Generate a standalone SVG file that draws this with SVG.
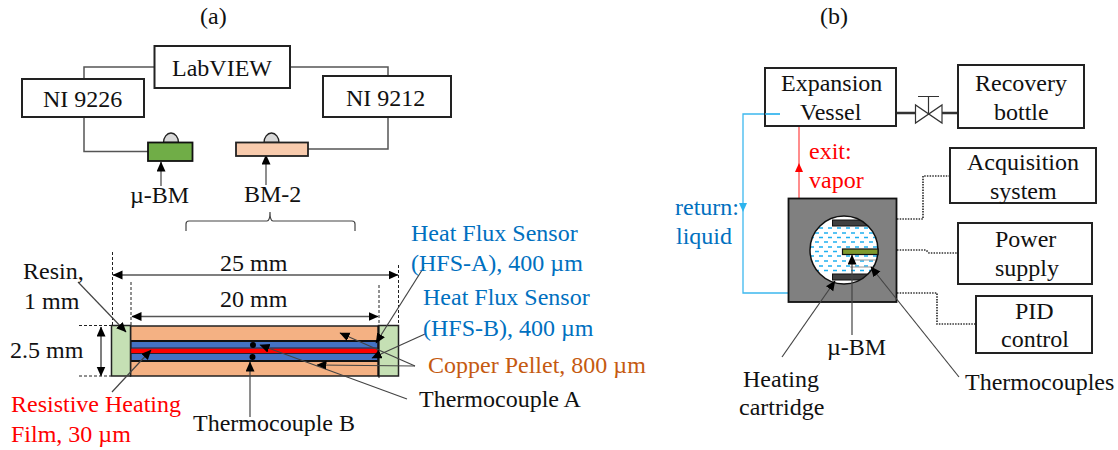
<svg xmlns="http://www.w3.org/2000/svg" width="1118" height="450" viewBox="0 0 1118 450">
<style>
text{font-family:"Liberation Serif","Times New Roman",serif;font-size:24px;fill:#111}
.blue{fill:#0070C0}.red{fill:#FF0000}.orange{fill:#C55A11}
.box{fill:#fff;stroke:#222;stroke-width:2}
.edge{fill:none;stroke:#555;stroke-width:1.500}
.lead{fill:none;stroke:#444;stroke-width:1.200}
.arrow{marker-end:url(#ah)}
.dash{fill:none;stroke:#222;stroke-width:1;stroke-dasharray:3 2}
.dot{fill:none;stroke:#333;stroke-width:1.700;stroke-dasharray:1.500 1.200}
.water{stroke:#1FB0F0;stroke-width:1.500;stroke-dasharray:4 5}
.semi{fill:#D9D9D9;stroke:#222;stroke-width:1.300}
</style>
<defs>
<marker id="ah" markerUnits="userSpaceOnUse" markerWidth="12" markerHeight="10" refX="9.500" refY="4.500" orient="auto"><path d="M0 0L10 4.500L0 9Z" fill="#000"/></marker>
<marker id="ahs" markerUnits="userSpaceOnUse" markerWidth="12" markerHeight="10" refX="9.500" refY="4.500" orient="auto-start-reverse"><path d="M0 0L10 4.500L0 9Z" fill="#000"/></marker>
<clipPath id="cc"><circle cx="844" cy="250" r="34"/></clipPath>
</defs>

<text x="200" y="24">(a)</text>
<text x="820" y="24">(b)</text>

<g id="connectors">
<path class="edge" d="M154 67H84V79M290 67H388V76M84 117V151.500H148M308 149H388V117"/>
<path class="lead arrow" d="M161 186V162"/>
<path class="lead arrow" d="M266 185V155"/>
<path class="lead" d="M186 231V224Q186 221 189 221H267Q270 221 270 212Q270 221 273 221H352Q355 221 355 224V231"/>
<path class="dash" d="M112.500 252V325M131 282V325M379 285V378M398.500 265V325M79 325.500H111M79 376H111"/>
</g>

<g id="labview"><rect class="box" x="154.500" y="46" width="135.500" height="42"/><text x="172" y="76">LabVIEW</text></g>
<g id="ni9226"><rect class="box" x="22" y="79" width="122" height="38"/><text x="43" y="107">NI 9226</text></g>
<g id="ni9212"><rect class="box" x="323" y="76" width="128" height="41"/><text x="346" y="106">NI 9212</text></g>
<g id="ubm-a"><path class="semi" d="M163.500 142.500A7.500 9.500 0 0 1 178.500 142.500Z"/><rect x="148" y="142.500" width="44.500" height="18.500" fill="#70AD47" stroke="#111" stroke-width="1.800"/><text x="130" y="203">µ-BM</text></g>
<g id="bm2"><path class="semi" d="M264 142.500A7.500 9.500 0 0 1 279 142.500Z"/><rect x="236" y="142.500" width="72" height="13.500" fill="#F8CBAD" stroke="#222" stroke-width="1.800"/><text x="244" y="202">BM-2</text></g>

<g id="pellet-assembly">
<rect x="130.500" y="326" width="248" height="50" fill="#F4B183" stroke="#222" stroke-width="1.500"/>
<rect x="130.500" y="341" width="248" height="20" fill="#4472C4" stroke="#111" stroke-width="2"/>
<rect x="130.500" y="348.500" width="248" height="4.500" fill="#FF0000"/>
<path d="M130.500 348H378M130.500 353.500H378" stroke="#223" stroke-width="1"/>
<rect x="111.500" y="325.500" width="19" height="50.500" fill="#C5E0B4" stroke="#222" stroke-width="1.500"/>
<rect x="378.500" y="325.500" width="20" height="50.500" fill="#C5E0B4" stroke="#222" stroke-width="1.500"/>
<path d="M378.500 326V376" stroke="#111" stroke-width="2"/>
<circle cx="253" cy="345" r="3" fill="#000"/>
<circle cx="252.500" cy="357" r="3" fill="#000"/>
</g>

<g id="dimensions">
<path class="edge" d="M113 275H398" marker-start="url(#ahs)" marker-end="url(#ahs)"/>
<path class="edge" d="M132 316.500H378" marker-start="url(#ahs)" marker-end="url(#ahs)"/>
<path class="edge" d="M101 327V376" marker-start="url(#ahs)" marker-end="url(#ahs)"/>
<text x="220" y="271">25 mm</text>
<text x="220" y="307">20 mm</text>
<text x="10" y="358">2.5 mm</text>
</g>

<g id="leaders-a">
<path class="lead arrow" d="M78 282L126 332"/>
<path class="lead arrow" d="M112 392L151 350"/>
<path class="lead arrow" d="M250 417V362"/>
<path class="lead arrow" d="M407 399L260 345"/>
<path class="lead arrow" d="M415 366L340 333"/>
<path class="lead arrow" d="M415 366L317 365"/>
<path class="lead arrow" d="M424 267L376 343"/>
<path class="lead arrow" d="M425 334L372 358"/>
</g>

<g id="label-resin"><text x="23" y="279">Resin,</text><text x="24" y="309">1 mm</text></g>
<g id="label-film"><text class="red" x="11" y="412">Resistive Heating</text><text class="red" x="11" y="442">Film, 30 µm</text></g>
<g id="label-tcb"><text x="193" y="431">Thermocouple B</text></g>
<g id="label-tca"><text x="419" y="407">Thermocouple A</text></g>
<g id="label-hfsa"><text class="blue" x="411" y="241">Heat Flux Sensor</text><text class="blue" x="411" y="271">(HFS-A), 400 µm</text></g>
<g id="label-hfsb"><text class="blue" x="423" y="305">Heat Flux Sensor</text><text class="blue" x="423" y="336">(HFS-B), 400 µm</text></g>
<g id="label-copper"><text class="orange" x="428" y="373">Copper Pellet, 800 µm</text></g>

<g id="connectors-b">
<path d="M780 114H743V293H788" fill="none" stroke="#3DB8EE" stroke-width="1.300"/>
<path d="M739 203H747L743 212Z" fill="#2DB4EE"/>
<path d="M799 126V198" stroke="#FF5050" stroke-width="1.300"/>
<path d="M795 172H803L799 163Z" fill="#FF0000"/>
<path d="M896 113H915M942 113H958" stroke="#333" stroke-width="2.500"/>
<path class="dot" d="M897 219H923V176H950"/>
<path class="dot" d="M897 250H926L929 253H958"/>
<path class="dot" d="M897 293H937V324H976"/>
</g>

<g id="valve"><path d="M915.500 105V123L942 105V123Z" fill="#fff" stroke="#333" stroke-width="1.200"/><path d="M928.500 114V97M918 96.500H939" stroke="#333" stroke-width="1.200"/></g>

<g id="expansion-vessel"><rect class="box" x="765" y="68" width="131" height="58" fill-opacity="0"/><path d="M780 114H765" stroke="#3DB8EE" stroke-width="1.300"/><text x="781" y="91">Expansion</text><text x="800" y="120">Vessel</text></g>
<g id="recovery-bottle"><rect class="box" x="958" y="65" width="126" height="63"/><text x="975" y="91">Recovery</text><text x="994" y="120">bottle</text></g>
<g id="acquisition"><rect class="box" x="950" y="148" width="146" height="55"/><text x="967" y="170">Acquisition</text><text x="990" y="199">system</text></g>
<g id="power"><rect class="box" x="958" y="223" width="134" height="61"/><text x="995" y="247">Power</text><text x="995" y="276">supply</text></g>
<g id="pid"><rect class="box" x="976" y="296" width="116" height="57"/><text x="1015" y="319">PID</text><text x="1001" y="347">control</text></g>

<g id="test-cell">
<rect x="788.500" y="198.500" width="108" height="103.500" fill="#808080" stroke="#111" stroke-width="1.800"/>
<circle cx="844" cy="250" r="34" fill="#fff"/>
<g clip-path="url(#cc)">
<path class="water" d="M810 228H880"/>
<path class="water" stroke-dashoffset="4" d="M810 233H880"/>
<path class="water" d="M810 237.500H880"/>
<path class="water" stroke-dashoffset="4" d="M810 242H880"/>
<path class="water" d="M810 247H880"/>
<path class="water" stroke-dashoffset="4" d="M810 251.500H880"/>
<path class="water" d="M810 256H880"/>
<path class="water" stroke-dashoffset="4" d="M810 261H880"/>
<path class="water" d="M810 266H880"/>
<path class="water" stroke-dashoffset="4" d="M810 270.500H880"/>
<rect x="832.500" y="220" width="44" height="6" fill="#404040" stroke="#111"/>
<rect x="832.500" y="274" width="44" height="6" fill="#404040" stroke="#111"/>
<path d="M850 260H877M850 267H877" stroke="#999" stroke-width="1"/>
</g>
<circle cx="844" cy="250" r="34" fill="none" stroke="#111" stroke-width="1.500"/>
<rect x="842.500" y="249" width="35.500" height="5.500" fill="#7F9A2E" stroke="#111" stroke-width="1.200"/>
</g>

<g id="leaders-b">
<path class="lead arrow" d="M782 357L835 281"/>
<path class="lead arrow" d="M852 335V255"/>
<path class="lead arrow" d="M959 377L871 267"/>
</g>

<g id="label-return"><text class="blue" x="675" y="215">return:</text><text class="blue" x="676" y="244">liquid</text></g>
<g id="label-exit"><text class="red" x="809" y="159">exit:</text><text class="red" x="809" y="188">vapor</text></g>
<g id="label-ubm-b"><text x="827" y="355">µ-BM</text></g>
<g id="label-heating"><text x="743" y="387">Heating</text><text x="739" y="415">cartridge</text></g>
<g id="label-thermocouples"><text x="965" y="390">Thermocouples</text></g>
</svg>
